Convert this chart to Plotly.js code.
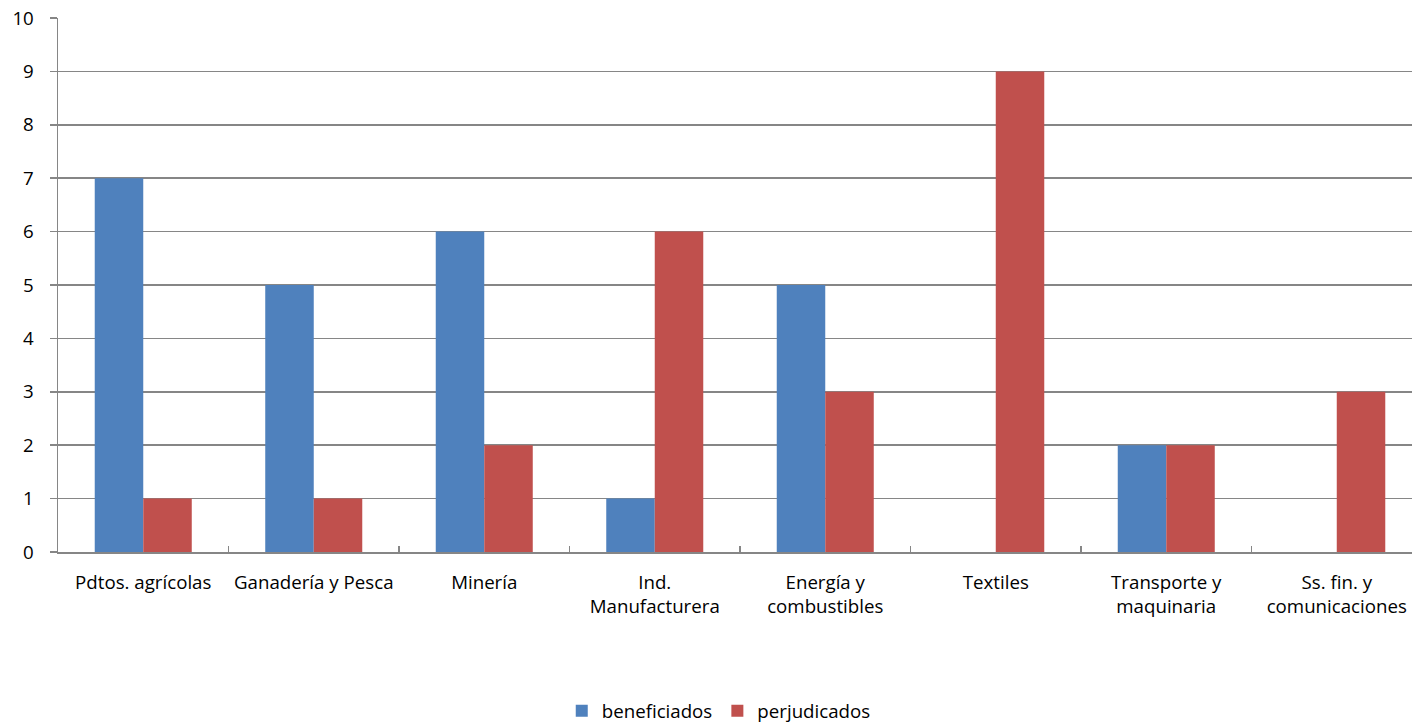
<!DOCTYPE html>
<html>
<head>
<meta charset="utf-8">
<script src="https://cdn.plot.ly/plotly-3.0.1.min.js"></script>
<style>html,body{margin:0;padding:0;background:#fff;}#chart{width:1412px;height:722px;}</style>
</head>
<body>
<div id="chart"></div>
<script>
var categories = ["Pdtos. agrícolas", "Ganadería y Pesca", "Minería", "Ind.<br>Manufacturera", "Energía y<br>combustibles", "Textiles", "Transporte y<br>maquinaria", "Ss. fin. y<br>comunicaciones"];
var beneficiados = [7, 5, 6, 1, 5, 0, 2, 0];
var perjudicados = [1, 1, 2, 6, 3, 9, 2, 3];
var yTicks = [0, 1, 2, 3, 4, 5, 6, 7, 8, 9, 10];

var font = {family: "'Open Sans', Lato, sans-serif", size: 18.7, color: "#000"};
var traces = [
  {type: "bar", name: "beneficiados", x: categories, y: beneficiados, marker: {color: "#4F81BD"}},
  {type: "bar", name: "perjudicados", x: categories, y: perjudicados, marker: {color: "#C0504D"}}
];
var layout = {
  width: 1412, height: 722,
  margin: {l: 58, r: 0, t: 18, b: 170, autoexpand: false},
  paper_bgcolor: "#fff", plot_bgcolor: "#fff",
  font: font,
  barmode: "group", bargap: 0.431, bargroupgap: 0,
  showlegend: true,
  legend: {orientation: "h", x: 0.488, xref: "paper", xanchor: "center", y: -0.298, yref: "paper", yanchor: "middle", font: font, itemwidth: 30, tracegroupgap: 0},
  xaxis: {type: "category", range: [-0.5, 7.4413], tickangle: 0, showline: true, linecolor: "#868686", linewidth: 1.5,
    ticks: "inside", tickson: "boundaries", ticklen: 6, tickcolor: "#868686", tickwidth: 1.5,
    showgrid: false, zeroline: false, tickfont: font, automargin: false, fixedrange: true, ticklabelstandoff: 13},
  yaxis: {range: [0, 10], tickvals: yTicks, showline: true, linecolor: "#868686", linewidth: 1.5,
    ticks: "outside", ticklen: 7, tickcolor: "#868686", tickwidth: 1.5,
    showgrid: true, gridcolor: "#868686", gridwidth: 1.5, zeroline: false, tickfont: font, automargin: false, ticklabelstandoff: 12}
};
Plotly.newPlot("chart", traces, layout, {displayModeBar: false, staticPlot: true});
</script>
</body>
</html>
